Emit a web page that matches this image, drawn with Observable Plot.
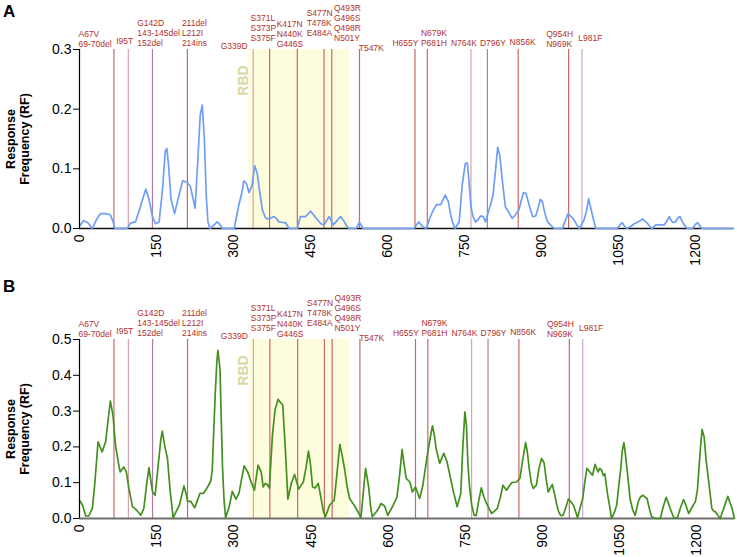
<!DOCTYPE html>
<html><head><meta charset="utf-8">
<script src="https://cdn.jsdelivr.net/npm/d3@7"></script>
<script src="https://cdn.jsdelivr.net/npm/@observablehq/plot@0.6"></script>
<style>
body{margin:0;background:#fff;font-family:Arial,"Liberation Sans",sans-serif;}
#wrap{position:relative;width:737px;height:557px;overflow:hidden;}
.panel{position:absolute;left:0;}
.letter{position:absolute;font-weight:bold;font-size:17px;line-height:normal;color:#000;}
</style></head><body>
<div id="wrap">
  <div class="panel" id="pA" style="top:0"></div>
  <div class="panel" id="pB" style="top:290px"></div>
  <div class="letter" style="left:3px;top:1.5px">A</div>
  <div class="letter" style="left:3px;top:276.5px">B</div>
</div>
<script>
// ---------- data ----------
const xTicks = [0, 150, 300, 450, 600, 750, 900, 1050, 1200];
const proteinLength = 1273;
const rbdRange = [330, 526];
const rbdLabel = "RBD";
const yLabel = "Response\nFrequency (RF)";

// mutation marker lines (residue positions as drawn)
const mutationPos = [67, 95, 142, 210, 338, 370, 424, 476, 491, 545, 653, 677, 762, 794, 854, 952, 978];
const mutationKind = ["r","p","v","r","p","r","r","r","r","r","r","r","p","v","r","r","l"];

// mutation label texts
const mutationText = [
  "A67V\n69-70del", "I95T", "G142D\n143-145del\n152del", "211del\nL212I\n214ins",
  "G339D", "S371L\nS373P\nS375F", "K417N\nN440K\nG446S", "S477N\nT478K\nE484A",
  "Q493R\nG496S\nQ498R\nN501Y", "T547K", "H655Y", "N679K\nP681H", "N764K",
  "D796Y", "N856K", "Q954H\nN969K", "L981F"
];

// panel A series (residue, RF)
const posA = [0,8,16,25,33,41,50,60,65,69,93,99,109,118,129,135,142,148,155,162,167,170,173,178,185,192,201,210,216,221,225,230,235,239,243,247,250,254,262,268,273,278,301,310,316,320,325,330,336,341,346,351,356,362,366,372,378,383,388,396,401,408,424,430,440,450,460,470,476,486,494,500,508,515,521,525,538,545,552,651,660,667,675,681,687,695,703,712,718,722,726,731,739,745,751,755,758,762,766,771,776,781,786,790,794,800,805,810,814,818,823,829,835,842,848,855,864,869,875,882,888,893,897,901,906,911,918,924,940,945,951,957,963,968,973,982,987,991,995,999,1005,1047,1052,1056,1060,1065,1072,1080,1090,1096,1101,1106,1114,1122,1138,1143,1148,1152,1155,1160,1165,1169,1173,1177,1183,1193,1198,1203,1207,1211,1273];
const rfA = [0.004,0.013,0.01,0,0.015,0.025,0.025,0.023,0.012,0,0,0.009,0.011,0.035,0.066,0.05,0.02,0.008,0.011,0.07,0.13,0.134,0.11,0.05,0.025,0.05,0.08,0.077,0.07,0.05,0.034,0.11,0.19,0.207,0.15,0.05,0.011,0,0.006,0.011,0.007,0,0,0.039,0.06,0.08,0.075,0.06,0.073,0.105,0.092,0.06,0.031,0.018,0.016,0.017,0.02,0.017,0.011,0.01,0.01,0,0,0.02,0.02,0.029,0.018,0.008,0.006,0.02,0.006,0.012,0.02,0.012,0.003,0,0,0.01,0,0,0.011,0.004,0,0.015,0.028,0.04,0.04,0.056,0.045,0.025,0.011,0,0.011,0.073,0.109,0.11,0.08,0.036,0.02,0.011,0.015,0.021,0.02,0.011,0.022,0.04,0.056,0.1,0.136,0.123,0.08,0.036,0.028,0.017,0.022,0.031,0.06,0.059,0.04,0.02,0.021,0.035,0.049,0.045,0.025,0.011,0.005,0,0,0.012,0.025,0.02,0.014,0.006,0,0.014,0.03,0.05,0.035,0.02,0,0,0.006,0.01,0.005,0,0.003,0.008,0.012,0.016,0.012,0.008,0,0.006,0.006,0.012,0.02,0.013,0.01,0.011,0.018,0.02,0.012,0.006,0,0,0.006,0.01,0.005,0,0];

// panel B series (residue, RF)
const posB = [0,6,12,18,25,30,36,40,44,51,56,60,65,70,75,79,86,91,96,103,109,114,119,125,130,135,142,147,153,158,161,166,171,176,182,188,194,198,203,207,210,216,224,229,234,241,249,255,258,261,264,267,269,273,276,278,281,284,291,297,304,310,315,320,327,334,340,347,353,357,361,365,369,372,375,380,386,390,395,400,405,412,418,426,435,440,445,449,453,458,464,469,474,478,486,495,500,506,510,515,520,525,530,534,543,547,552,556,562,566,569,577,582,586,593,599,609,617,622,627,631,635,642,647,653,661,667,675,681,686,690,693,700,708,714,720,726,734,741,745,749,752,755,758,762,767,771,776,781,786,791,801,806,812,818,823,830,835,840,849,856,861,867,870,874,878,882,888,893,898,903,907,911,915,919,923,927,931,935,940,945,950,955,960,964,968,973,978,982,986,992,997,1002,1008,1011,1015,1018,1021,1026,1031,1034,1039,1044,1048,1052,1055,1058,1061,1064,1070,1075,1080,1086,1090,1095,1099,1103,1108,1112,1120,1129,1134,1140,1144,1148,1155,1162,1168,1174,1179,1184,1190,1197,1201,1203,1207,1210,1214,1218,1223,1229,1233,1236,1240,1245,1252,1256,1260,1264,1268,1273];
const rfB = [0.051,0.037,0.007,0.007,0.028,0.102,0.214,0.2,0.186,0.216,0.28,0.328,0.289,0.205,0.16,0.13,0.144,0.13,0.084,0.033,0.026,0.018,0.009,0.028,0.09,0.142,0.074,0.065,0.15,0.22,0.244,0.2,0.168,0.08,0.002,0.02,0.037,0.06,0.091,0.07,0.048,0.048,0.03,0.05,0.07,0.07,0.088,0.104,0.135,0.25,0.354,0.44,0.47,0.419,0.25,0.14,0.05,0.002,0.033,0.076,0.054,0.07,0.11,0.147,0.13,0.1,0.079,0.149,0.13,0.088,0.098,0.095,0.085,0.16,0.233,0.303,0.333,0.325,0.317,0.196,0.054,0.1,0.123,0.082,0.102,0.14,0.188,0.15,0.088,0.085,0.098,0.06,0.02,0.005,0.037,0.051,0.12,0.207,0.18,0.14,0.09,0.056,0.045,0.037,0.014,0.002,0.08,0.14,0.088,0.03,0.005,0.019,0.03,0.042,0.035,0.009,0.035,0.06,0.12,0.193,0.15,0.112,0.102,0.074,0.088,0.056,0.09,0.168,0.22,0.259,0.23,0.196,0.154,0.182,0.16,0.12,0.079,0.033,0.07,0.2,0.298,0.26,0.15,0.09,0.04,0.009,0.009,0.05,0.086,0.06,0.042,0.014,0.02,0.028,0.06,0.093,0.079,0.09,0.1,0.102,0.112,0.16,0.212,0.19,0.14,0.1,0.084,0.093,0.14,0.168,0.155,0.11,0.074,0.085,0.095,0.07,0.042,0.02,0.009,0.009,0.03,0.054,0.047,0.037,0.02,0.002,0.03,0.056,0.1,0.14,0.13,0.121,0.151,0.13,0.14,0.135,0.12,0.125,0.07,0.028,0,0.015,0.037,0.09,0.14,0.19,0.212,0.18,0.14,0.056,0.025,0.009,0.047,0.06,0.065,0.06,0.056,0.025,0.005,0,0,0.03,0.059,0.045,0.028,0.002,0.002,0.03,0.053,0.035,0.014,0.03,0.047,0.08,0.121,0.2,0.249,0.228,0.16,0.102,0.028,0.02,0.019,0.01,0,0.028,0.045,0.062,0.045,0.03,0];

// ---------- layout / styles (not data) ----------
const kindColor = {r: "#c8686a", p: "#d9a3a8", v: "#b07aa6", l: "#c9a6d6"};
// label anchor (residue of left edge) and lift above the frame top (px)
const labelAnchor = [-2, 71.5, 112.4, 199.3, 274.7, 333, 383.8, 442.2, 495.4, 543.5, 609.2, 664.5, 722.9, 779.4, 837.1, 908.4, 970.8];
const labelLift = [3, 6, 4, 4, 1, 9, 3, 14, 9, -1, 4, 4, 4, 4, 5, 3, 9];
const FONT = "Arial, 'Liberation Sans', sans-serif";

function panel({pos, rf, color, yMax, yTicks, axisColor, axisWidth, height, marginBottom, marginRight}) {
  const labels = mutationText.map((t, i) => ({t, x: labelAnchor[i], lift: labelLift[i]}));
  const muts = mutationPos.map((p, i) => ({p, c: kindColor[mutationKind[i]]}));
  const marks = [
    Plot.rect([rbdRange], {x1: d => d[0], x2: d => d[1], y1: 0, y2: yMax, fill: "#fdfcdc"}),
    Plot.ruleX(muts, {x: "p", y1: 0, y2: yMax, stroke: "c", strokeWidth: 1.2}),
    Plot.ruleY([0], {stroke: axisColor, strokeWidth: axisWidth}),
    Plot.line(pos, {x: d => d, y: (d, i) => rf[i], stroke: color, strokeWidth: 1.7, curve: "linear"}),
    Plot.ruleX([0], {y1: 0, y2: yMax, stroke: "#000", strokeWidth: 1.2}),
    Plot.text([rbdLabel], {x: rbdRange[0], y: yMax, text: d => d, rotate: -90, dx: -5.5, dy: 31,
      fontSize: 14, fontWeight: "bold", fill: "#d8d8a2", textAnchor: "middle", lineAnchor: "middle"}),
    Plot.text([yLabel], {frameAnchor: "left", text: d => d, rotate: -90, dx: -62.3, fontSize: 12.5,
      fontWeight: "bold", fill: "#000", textAnchor: "middle", lineAnchor: "middle", lineHeight: 1.2}),
    ...labels.map(l => Plot.text([l], {x: "x", y: yMax, text: "t", textAnchor: "start", lineAnchor: "bottom",
      dy: -l.lift, fontSize: 8.5, lineHeight: 1.15, fill: "#b0312f"}))
  ];
  return Plot.plot({
    width: 737, height, marginTop: 49, marginBottom, marginLeft: 79, marginRight,
    style: {fontFamily: FONT, fontSize: "14px", color: "#000", background: "transparent"},
    x: {domain: [0, proteinLength], ticks: xTicks, tickFormat: d => String(d), tickRotate: -90, tickSize: 0, tickPadding: 6, label: null},
    y: {domain: [0, yMax], ticks: yTicks, tickFormat: d => d.toFixed(1), tickSize: 6, tickPadding: 2, label: null},
    color: {type: "identity"},
    marks
  });
}

document.getElementById("pA").appendChild(panel({
  pos: posA, rf: rfA, color: "#6e9ef5", yMax: 0.3, yTicks: [0, 0.1, 0.2, 0.3],
  axisColor: "#111", axisWidth: 1.5, height: 290, marginBottom: 62, marginRight: 4
}));
document.getElementById("pB").appendChild(panel({
  pos: posB, rf: rfB, color: "#43901f", yMax: 0.5, yTicks: [0, 0.1, 0.2, 0.3, 0.4, 0.5],
  axisColor: "#6e6e6e", axisWidth: 2, height: 267, marginBottom: 39, marginRight: 3
}));
</script>
</body></html>
